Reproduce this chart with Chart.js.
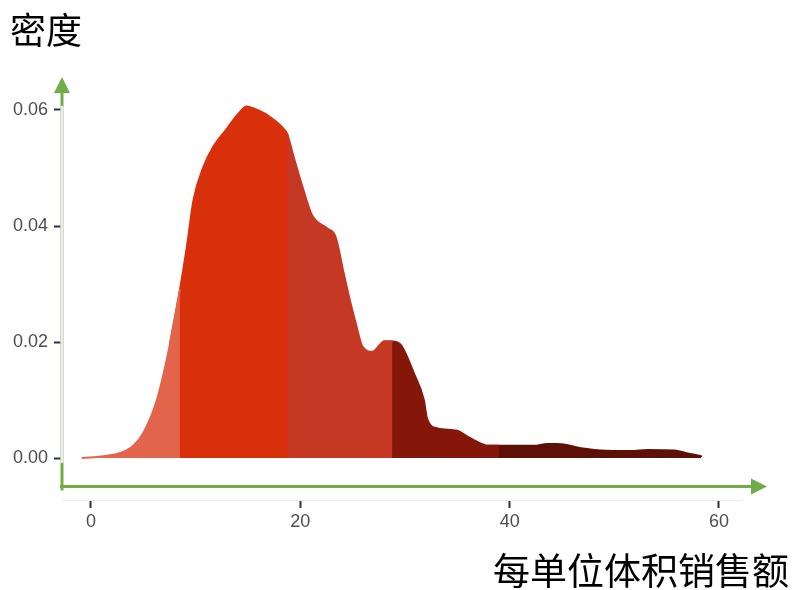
<!DOCTYPE html>
<html>
<head>
<meta charset="utf-8">
<script src="https://cdn.jsdelivr.net/npm/chart.js@4.4.1/dist/chart.umd.min.js"></script>
<style>
  html, body { margin: 0; padding: 0; background: #fff; }
  #wrap { width: 794px; height: 590px; }
</style>
</head>
<body>
<div id="wrap"><canvas id="myChart" width="794" height="590"></canvas></div>
<script>
// density curve
var salesX = [-0.8, 1.2, 2.9, 4.05, 5.0, 6.3, 7.0, 7.56, 8.5, 9.16, 9.8, 10.75, 11.7, 13.0, 14.1, 14.9, 15.5, 17.1, 18.6, 18.8,
  19.35, 20.3, 21.1, 22.55, 23.35, 24.15, 24.8, 25.3, 25.9, 26.9, 28.0, 28.8, 29.6, 30.85, 31.8, 32.1, 33.1, 35.0, 35.96,
  37.2, 37.9, 39.0, 42.3, 43.6, 44.6, 46.8, 48.7, 51.6, 53.2, 55.7, 57.0, 58.3];
var density = [0.0000, 0.0003, 0.0009, 0.0021, 0.0043, 0.0100, 0.0150, 0.0198, 0.0290, 0.0364, 0.0445, 0.0502, 0.0537, 0.0568, 0.0594, 0.0606, 0.0603, 0.0588, 0.0563, 0.0556,
  0.0520, 0.0462, 0.0419, 0.0396, 0.0382, 0.0318, 0.0267, 0.0232, 0.0193, 0.0183, 0.0201, 0.0201, 0.0195, 0.0146, 0.0100, 0.0068, 0.0051, 0.0047, 0.0037,
  0.0025, 0.0021, 0.0021, 0.0021, 0.0024, 0.0024, 0.0017, 0.0013, 0.0012, 0.0014, 0.0013, 0.0008, 0.0003];

// where the fill colour changes
var cuts = [8.5, 18.8, 28.8, 39.0];
var segColors = ['#E2644A', '#D9300C', '#C53823', '#841709', '#5E1006'];

var xTicks = [0, 20, 40, 60];
var yTicks = [0, 0.02, 0.04, 0.06];

var yTitle = '密度';
var xTitle = '每单位体积销售额';

// split the curve into coloured pieces; each piece also takes the point
// just left of its cut so the piece on top hides the seam
var edges = [-Infinity].concat(cuts).concat([Infinity]);
var datasets = [];
for (var s = 0; s < segColors.length; ++s) {
  var pts = [];
  for (var i = 0; i < salesX.length; ++i) {
    var inside = salesX[i] >= edges[s] && salesX[i] <= edges[s + 1];
    var justBefore = i + 1 < salesX.length && salesX[i] < edges[s] && salesX[i + 1] >= edges[s];
    if (inside || justBefore) {
      pts.push({ x: salesX[i], y: density[i] });
    }
  }
  datasets.push({
    data: pts,
    backgroundColor: segColors[s],
    borderColor: segColors[s],
    borderWidth: 2,
    borderCapStyle: 'round',
    borderJoinStyle: 'round',
    pointRadius: 0,
    fill: 'origin',
    cubicInterpolationMode: 'monotone'
  });
}

var green = '#70AD47';

var decor = {
  id: 'decor',
  afterDraw: function (chart) {
    var ctx = chart.ctx;
    var a = chart.chartArea;
    var ys = chart.scales.y;
    ctx.save();

    // green axis arrows
    var axX = a.left;
    var axY = ys.getPixelForValue(-0.0049);
    ctx.strokeStyle = green;
    ctx.fillStyle = green;
    ctx.lineWidth = 3;
    ctx.beginPath();
    ctx.moveTo(axX, axY + 4);
    ctx.lineTo(axX, 92);
    ctx.moveTo(axX - 2, axY);
    ctx.lineTo(752, axY);
    ctx.stroke();
    ctx.beginPath();
    ctx.moveTo(axX, 77);
    ctx.lineTo(axX - 8, 93);
    ctx.lineTo(axX + 8, 93);
    ctx.closePath();
    ctx.fill();
    ctx.beginPath();
    ctx.moveTo(767, axY);
    ctx.lineTo(751, axY - 8);
    ctx.lineTo(751, axY + 8);
    ctx.closePath();
    ctx.fill();

    // light grey panel lines
    ctx.strokeStyle = '#EBEBEB';
    ctx.lineWidth = 3;
    ctx.beginPath();
    ctx.moveTo(axX, 106);
    ctx.lineTo(axX, 463);
    ctx.stroke();
    ctx.lineWidth = 1;
    ctx.beginPath();
    ctx.moveTo(a.left, a.bottom + 0.5);
    ctx.lineTo(a.right, a.bottom + 0.5);
    ctx.stroke();

    // axis titles
    ctx.fillStyle = '#000';
    ctx.textBaseline = 'middle';
    ctx.font = '36px "Noto Sans CJK SC"';
    ctx.textAlign = 'left';
    ctx.fillText(yTitle, 10, 30);
    ctx.font = '37px "Noto Sans CJK SC"';
    ctx.textAlign = 'right';
    ctx.fillText(xTitle, 789, 571);
    ctx.restore();
  }
};

var ctx = document.getElementById('myChart');
var myChart = new Chart(ctx, {
  type: 'line',
  data: { datasets: datasets },
  plugins: [decor],
  options: {
    responsive: false,
    animation: false,
    layout: { padding: { left: 0, right: 52, top: 100, bottom: 0 } },
    plugins: { legend: { display: false }, tooltip: { enabled: false } },
    scales: {
      x: {
        type: 'linear',
        min: -2.77,
        max: 62.2,
        afterFit: function (scale) { scale.height = 90; },
        afterBuildTicks: function (scale) { scale.ticks = xTicks.map(function (v) { return { value: v }; }); },
        border: { display: false },
        grid: { drawOnChartArea: false, tickLength: 8, tickColor: '#333333', tickWidth: 2 },
        ticks: {
          padding: 3,
          maxRotation: 0,
          color: '#4D4D4D',
          font: { family: '"Liberation Sans", Arial, sans-serif', size: 18 }
        }
      },
      y: {
        min: -0.007241,
        max: 0.061724,
        afterFit: function (scale) { scale.width = 62; },
        afterBuildTicks: function (scale) { scale.ticks = yTicks.map(function (v) { return { value: v }; }); },
        border: { display: false },
        grid: { drawOnChartArea: false, tickLength: 8, tickColor: '#333333', tickWidth: 2 },
        ticks: {
          padding: 6,
          color: '#4D4D4D',
          font: { family: '"Liberation Sans", Arial, sans-serif', size: 18 },
          callback: function (v) { return Number(v).toFixed(2); }
        }
      }
    }
  }
});
</script>
</body>
</html>
